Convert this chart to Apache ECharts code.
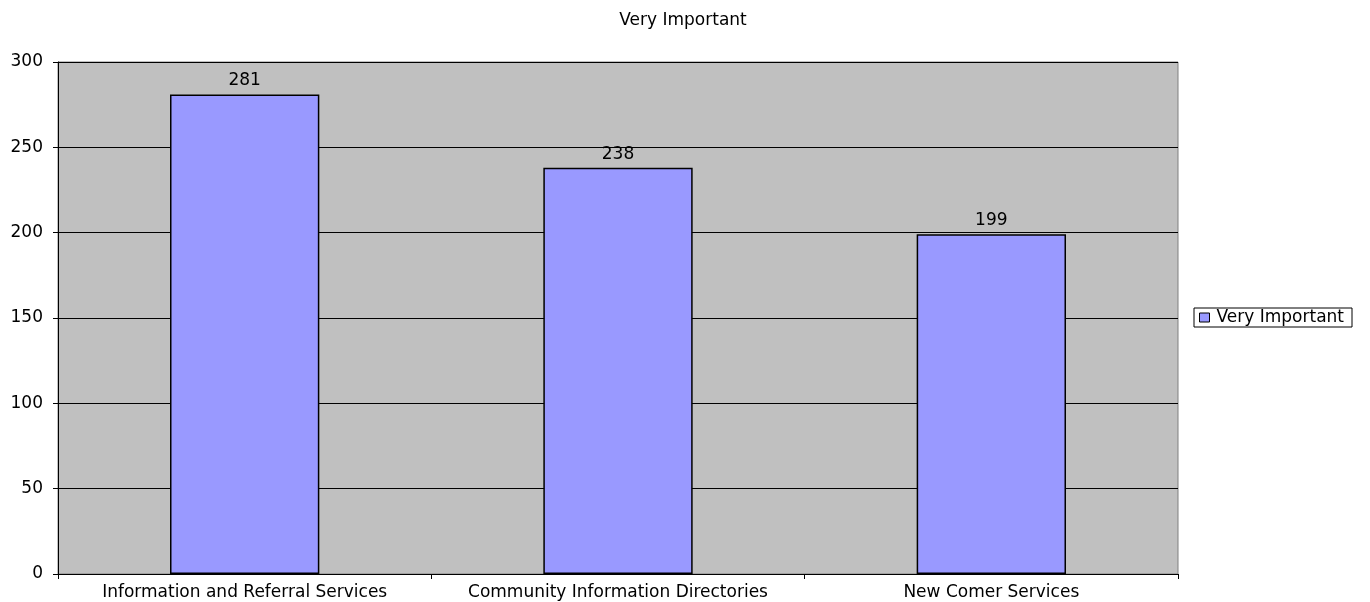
<!DOCTYPE html>
<html>
<head>
<meta charset="utf-8">
<script src="https://cdn.jsdelivr.net/npm/echarts@6/dist/echarts.min.js"></script>
<style>
  html, body { margin: 0; padding: 0; background: #fff; }
  #chart { width: 1370px; height: 602px; }
</style>
</head>
<body>
<div id="chart"></div>
<script>
const categories = ['Information and Referral Services', 'Community Information Directories', 'New Comer Services']
const veryImportant = [281, 238, 199]
const seriesName = 'Very Important'

const chart = echarts.init(document.getElementById('chart'))
// text in the picture is wide, DejaVu Sans gets closest
const font = '"DejaVu Sans", sans-serif'
const fs = 17

chart.setOption({
  animation: false,
  title: {
    text: 'Very Important',
    left: 678,
    textAlign: 'center',
    top: 7,
    textStyle: { fontFamily: font, fontSize: fs, fontWeight: 'normal', color: '#000' }
  },
  legend: {
    data: [seriesName],
    left: 1194,
    top: 308,
    orient: 'vertical',
    icon: 'rect',
    itemWidth: 10,
    itemHeight: 9,
    itemGap: 4,
    padding: [1, 8, 1, 5],
    borderColor: '#000',
    borderWidth: 1,
    itemStyle: { borderColor: '#000', borderWidth: 1 },
    textStyle: { fontFamily: font, fontSize: fs, color: '#000', padding: [0, 0, 0, 2] }
  },
  grid: {
    left: 58,
    right: 192,
    top: 62,
    bottom: 28,
    show: true,
    backgroundColor: '#c0c0c0',
    borderColor: '#808080',
    borderWidth: 1,
    containLabel: false
  },
  xAxis: {
    type: 'category',
    data: categories,
    axisLine: { lineStyle: { color: '#000' } },
    axisTick: { show: true, interval: 0, lineStyle: { color: '#000' }, length: 5 },
    axisLabel: { interval: 0, hideOverlap: false, fontFamily: font, fontSize: fs, color: '#000', margin: 10 }
  },
  yAxis: {
    type: 'value',
    min: 0,
    max: 300,
    interval: 50,
    axisLine: { show: true, lineStyle: { color: '#000' } },
    axisTick: { show: true, lineStyle: { color: '#000' }, length: 5 },
    axisLabel: { fontFamily: font, fontSize: fs, color: '#000', margin: 15 },
    splitLine: { lineStyle: { color: '#000', width: 1 } }
  },
  series: [
    {
      name: seriesName,
      type: 'bar',
      data: veryImportant,
      barWidth: '40%',
      itemStyle: { color: '#9999ff', borderColor: '#000', borderWidth: 1.5 },
      label: {
        show: true,
        position: 'top',
        distance: 5,
        fontFamily: font,
        fontSize: fs,
        color: '#000'
      }
    }
  ]
})
</script>
</body>
</html>
